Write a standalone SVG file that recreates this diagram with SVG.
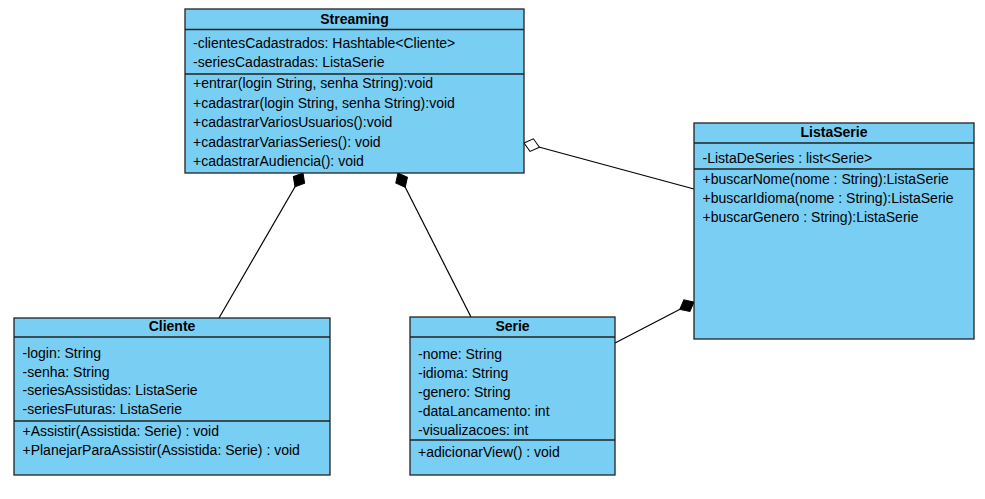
<svg xmlns="http://www.w3.org/2000/svg" width="985" height="499" viewBox="0 0 985 499">
<style>
.box{fill:#79CEF4;stroke:#222;stroke-width:1.3}
.sep{stroke:#222;stroke-width:1.3}
.t{font-family:"Liberation Sans",Arial,sans-serif;font-size:14px;fill:#000}
.h{font-family:"Liberation Sans",Arial,sans-serif;font-size:14px;font-weight:bold;fill:#000;text-anchor:middle}
.c{fill:none;stroke:#000;stroke-width:1.2}
</style>
<defs>
<marker id="dFill" markerUnits="userSpaceOnUse" markerWidth="18" markerHeight="16" refX="0" refY="8" orient="auto" viewBox="0 0 18 16" overflow="visible">
<path d="M0,8 L8,1.5 L16,8 L8,14.5 Z" fill="#000" stroke="#000" stroke-width="1"/>
</marker>
<marker id="dOpen" markerUnits="userSpaceOnUse" markerWidth="18" markerHeight="16" refX="0" refY="8" orient="auto" viewBox="0 0 18 16" overflow="visible">
<path d="M0,8 L8,1.5 L16,8 L8,14.5 Z" fill="#fff" stroke="#000" stroke-width="1"/>
</marker>
</defs>
<rect width="985" height="499" fill="#fff"/>
<g id="connectors">
<path class="c" d="M303,173 L219,318" marker-start="url(#dFill)"/>
<path class="c" d="M398,173 L471,317" marker-start="url(#dFill)"/>
<path class="c" d="M524,143 L694,189" marker-start="url(#dOpen)"/>
<path class="c" d="M694,302 L615,343" marker-start="url(#dFill)"/>
</g>
<g id="Streaming">
<rect class="box" x="185" y="9" width="339" height="164"/>
<line class="sep" x1="185" y1="29.5" x2="524" y2="29.5"/>
<line class="sep" x1="185" y1="74" x2="524" y2="74"/>
<text class="h" x="354.5" y="23.5">Streaming</text>
<text class="t" x="193" y="48">-clientesCadastrados: Hashtable&lt;Cliente&gt;</text>
<text class="t" x="193" y="67">-seriesCadastradas: ListaSerie</text>
<text class="t" x="193" y="88">+entrar(login String, senha String):void</text>
<text class="t" x="193" y="107.5">+cadastrar(login String, senha String):void</text>
<text class="t" x="193" y="127">+cadastrarVariosUsuarios():void</text>
<text class="t" x="193" y="146.5">+cadastrarVariasSeries(): void</text>
<text class="t" x="193" y="166">+cadastrarAudiencia(): void</text>
</g>
<g id="ListaSerie">
<rect class="box" x="694" y="123" width="280" height="216"/>
<line class="sep" x1="694" y1="143" x2="974" y2="143"/>
<line class="sep" x1="694" y1="169" x2="974" y2="169"/>
<text class="h" x="834" y="137">ListaSerie</text>
<text class="t" x="702.5" y="162.5">-ListaDeSeries : list&lt;Serie&gt;</text>
<text class="t" x="702.5" y="184">+buscarNome(nome : String):ListaSerie</text>
<text class="t" x="702.5" y="203">+buscarIdioma(nome : String):ListaSerie</text>
<text class="t" x="702.5" y="222">+buscarGenero : String):ListaSerie</text>
</g>
<g id="Cliente">
<rect class="box" x="14" y="318" width="316" height="157"/>
<line class="sep" x1="14" y1="337" x2="330" y2="337"/>
<line class="sep" x1="14" y1="421" x2="330" y2="421"/>
<text class="h" x="172" y="331">Cliente</text>
<text class="t" x="22.5" y="357.5">-login: String</text>
<text class="t" x="22.5" y="376.5">-senha: String</text>
<text class="t" x="22.5" y="395">-seriesAssistidas: ListaSerie</text>
<text class="t" x="22.5" y="414">-seriesFuturas: ListaSerie</text>
<text class="t" x="22.5" y="435.5">+Assistir(Assistida: Serie) : void</text>
<text class="t" x="22.5" y="455">+PlanejarParaAssistir(Assistida: Serie) : void</text>
</g>
<g id="Serie">
<rect class="box" x="410" y="317" width="205" height="158"/>
<line class="sep" x1="410" y1="337" x2="615" y2="337"/>
<line class="sep" x1="410" y1="440" x2="615" y2="440"/>
<text class="h" x="512.5" y="331">Serie</text>
<text class="t" x="418" y="359">-nome: String</text>
<text class="t" x="418" y="378">-idioma: String</text>
<text class="t" x="418" y="397">-genero: String</text>
<text class="t" x="418" y="416">-dataLancamento: int</text>
<text class="t" x="418" y="435">-visualizacoes: int</text>
<text class="t" x="418" y="456.5">+adicionarView() : void</text>
</g>
</svg>
